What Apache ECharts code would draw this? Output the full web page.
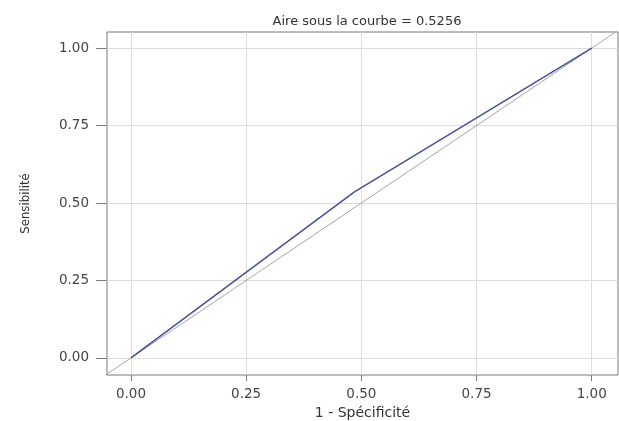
<!DOCTYPE html>
<html>
<head>
<meta charset="utf-8">
<script src="https://cdn.jsdelivr.net/npm/echarts@6/dist/echarts.min.js"></script>
<style>html,body{margin:0;padding:0;background:#fff}#c{width:619px;height:421px}</style>
</head>
<body>
<div id="c"></div>
<script>
const titleText = 'Aire sous la courbe = 0.5256';
const xName = '1 - Spécificité';
const yName = 'Sensibilité';
const tickValues = [0, 0.25, 0.5, 0.75, 1];
const rocX = [0, 0.485, 1];
const rocY = [0, 0.536, 1];
const refX = [-0.06, 1.06];
const refY = [-0.06, 1.06];

const chart = echarts.init(document.getElementById('c'), null, {renderer: 'canvas'});
const fmt = v => Number(v).toFixed(2);
const labelStyle = {fontFamily: 'DejaVu Sans', fontSize: 13.5, color: '#444'};
chart.setOption({
  animation: false,
  backgroundColor: '#fff',
  title: {
    text: titleText, left: 362, top: 10, textAlign: 'center',
    textStyle: {fontFamily: 'DejaVu Sans', fontSize: 13, fontWeight: 'normal', color: '#333'}
  },
  grid: {left: 107, top: 32, width: 511, height: 343, outerBoundsMode: 'none', containLabel: false, show: true, borderColor: '#7a7a7a', borderWidth: 1, backgroundColor: 'transparent'},
  xAxis: {
    type: 'value', min: -0.052, max: 1.057,
    name: xName, nameLocation: 'middle', nameGap: 31,
    nameTextStyle: {fontFamily: 'DejaVu Sans', fontSize: 14, color: '#333'},
    axisLine: {show: false, onZero: false},
    axisTick: {show: true, length: 6, customValues: tickValues, lineStyle: {color: '#7a7a7a'}},
    axisLabel: {customValues: tickValues, formatter: fmt, margin: 12, ...labelStyle},
    splitLine: {show: true, lineStyle: {color: '#dedede', width: 1}}
  },
  yAxis: {
    type: 'value', min: -0.055, max: 1.052,
    name: yName, nameLocation: 'middle', nameGap: 75, nameRotate: 90,
    nameTextStyle: {fontFamily: "'DejaVu Sans Condensed', 'Liberation Sans Narrow', sans-serif", fontSize: 13, color: '#333'},
    axisLine: {show: false, onZero: false},
    axisTick: {show: true, length: 11, customValues: tickValues, lineStyle: {color: '#7a7a7a'}},
    axisLabel: {customValues: tickValues, formatter: fmt, margin: 18, ...labelStyle},
    splitLine: {show: true, lineStyle: {color: '#dedede', width: 1}}
  },
  series: [
    {
      type: 'line', data: refX.map((x, i) => [x, refY[i]]), symbol: 'none',
      lineStyle: {color: '#a5a5a5', width: 1}, clip: true, silent: true
    },
    {
      type: 'line', data: rocX.map((x, i) => [x, rocY[i]]), symbol: 'none',
      lineStyle: {color: '#46509a', width: 1.5}, clip: true
    }
  ]
});
</script>
</body>
</html>
